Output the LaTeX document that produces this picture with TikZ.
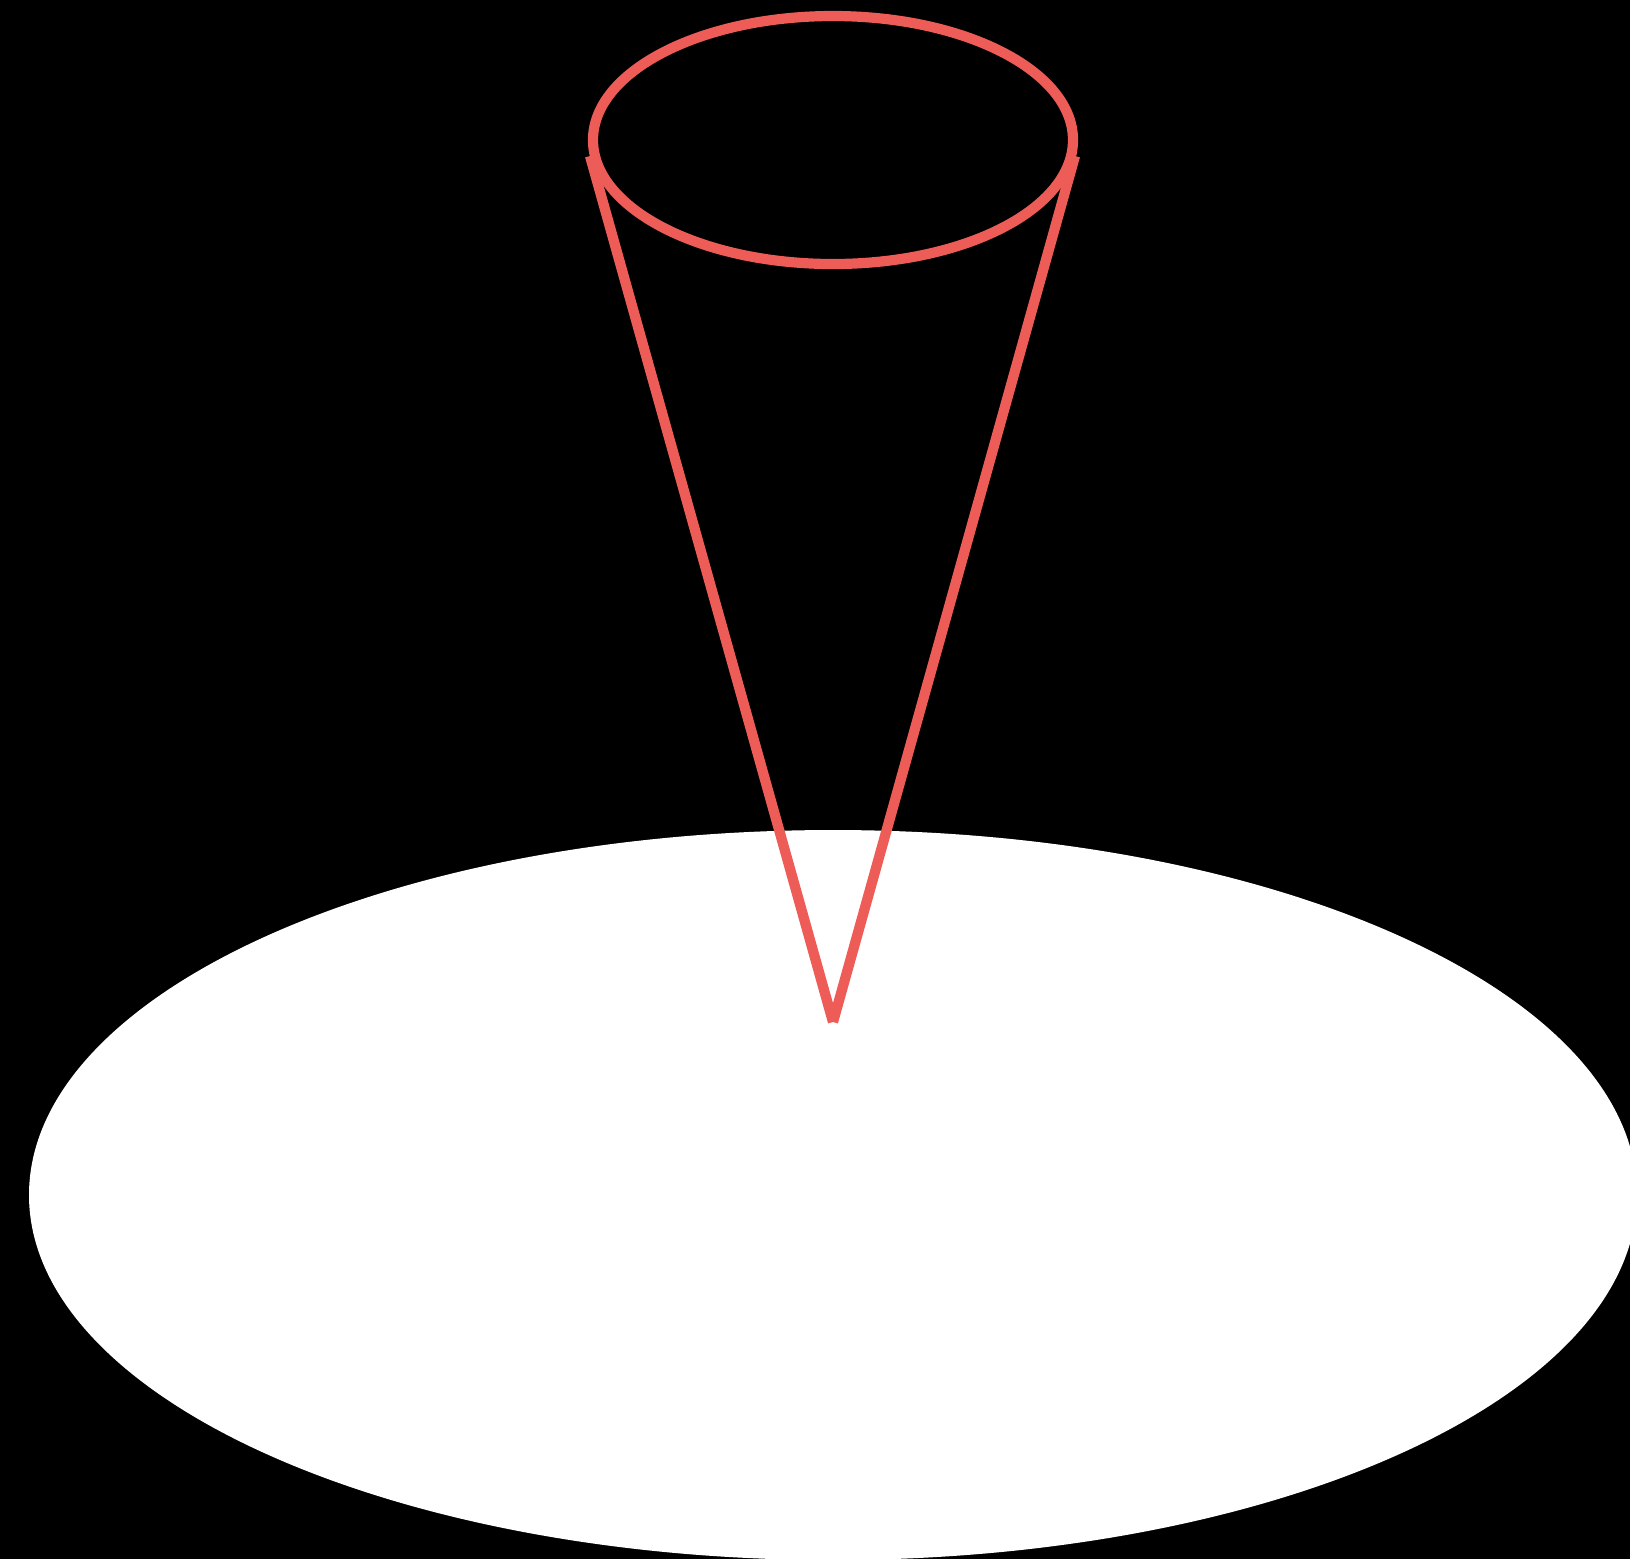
\documentclass[tikz,border=0pt]{standalone}
\definecolor{conered}{RGB}{238,92,88}

\begin{document}
\begin{tikzpicture}[
    x=0.01cm, y=-0.01cm,
    backdrop/.style={fill=black},
    ground/.style={fill=white},
    side/.style={draw=conered, line width=2.9pt},
    rim/.style={draw=conered, line width=2.9pt}
]

% Page and ground plane (cut off at the right and bottom edges).
\fill[backdrop] (0,0) rectangle (1630,1559);
\useasboundingbox (0,0) rectangle (1630,1559);
\begin{scope}
    \clip (0,0) rectangle (1630,1559);
    \fill[ground] (833,1195) ellipse [x radius=804, y radius=365];
\end{scope}

% Cone: two sides down to the apex, rim ellipse on top.
\coordinate (apex) at (833,1022);
\coordinate (rimL) at (590,156);
\coordinate (rimR) at (1075,156);
\draw[side] (rimL) -- (apex);
\draw[side] (rimR) -- (apex);
\draw[rim] (833,140) ellipse [x radius=240, y radius=124];

\end{tikzpicture}
\end{document}
